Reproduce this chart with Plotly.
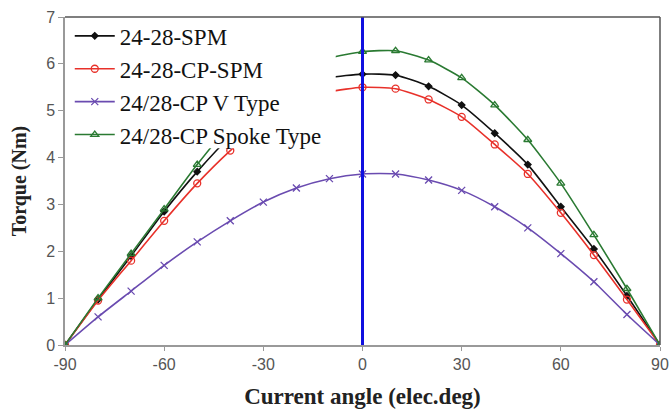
import plotly.graph_objects as go

angle = [-90, -80, -70, -60, -50, -40, -30, -20, -10, 0, 10, 20, 30, 40, 50, 60, 70, 80, 90]
spm = [0, 0.97, 1.9, 2.85, 3.7, 4.45, 5.05, 5.45, 5.7, 5.78, 5.76, 5.52, 5.12, 4.52, 3.85, 2.95, 2.05, 1.05, 0]
cp_spm = [0, 0.95, 1.8, 2.65, 3.45, 4.15, 4.75, 5.15, 5.4, 5.5, 5.47, 5.24, 4.87, 4.28, 3.65, 2.82, 1.92, 0.97, 0]
v_type = [0, 0.6, 1.15, 1.7, 2.2, 2.65, 3.05, 3.35, 3.55, 3.65, 3.65, 3.52, 3.3, 2.95, 2.5, 1.95, 1.35, 0.65, 0]
spoke = [0, 1.0, 1.95, 2.9, 3.85, 4.7, 5.4, 5.85, 6.12, 6.26, 6.28, 6.08, 5.7, 5.12, 4.38, 3.45, 2.35, 1.2, 0]

x_ticks = [-90, -60, -30, 0, 30, 60, 90]
x_ticktext = ["-90", "-60", "-30", "0", "30", "60", "90"]
y_ticks = [0, 1, 2, 3, 4, 5, 6, 7]

names = ["24-28-SPM", "24-28-CP-SPM", "24/28-CP V Type", "24/28-CP Spoke Type"]
series = [spm, cp_spm, v_type, spoke]
colors = ["#111111", "#e8312a", "#6a4bb0", "#2a7a32"]
symbols = ["diamond", "circle-open", "x-thin-open", "triangle-up-open"]
sizes = [5, 7, 7, 7]

fig = go.Figure()
for n, s, c, m, sz in zip(names, series, colors, symbols, sizes):
    fig.add_trace(go.Scatter(
        x=angle, y=s, name=n, mode="lines+markers",
        line=dict(color=c, width=1.6, shape="spline", smoothing=0.6),
        marker=dict(symbol=m, size=sz, color=c, line=dict(color=c, width=1.3)),
    ))

# white area behind the legend (hides the curves there, as in the original)
fig.add_shape(type="rect", xref="paper", yref="paper", x0=0.004, x1=0.455, y0=0.60, y1=0.996,
              fillcolor="white", line=dict(width=0), layer="above")

fig.add_shape(type="line", x0=0, x1=0, y0=0, y1=7, xref="x", yref="y",
              line=dict(color="#1010e0", width=3), layer="above")

serif = "Liberation Serif, Times New Roman, serif"
sans = "Liberation Sans Narrow, Liberation Sans, Arial, sans-serif"
fig.update_layout(
    width=669, height=409,
    margin=dict(l=65, r=9, t=17, b=64, autoexpand=False),
    paper_bgcolor="white", plot_bgcolor="white",
    font=dict(family=serif, color="#444444"),
    legend=dict(x=0.008, y=1.008, xanchor="left", yanchor="top",
                bgcolor="rgba(0,0,0,0)", borderwidth=0,
                font=dict(family=serif, size=23, color="#111111"),
                itemwidth=40, tracegroupgap=0),
    xaxis=dict(range=[-90, 90], tickvals=x_ticks, ticktext=x_ticktext,
               ticks="outside", ticklen=4, tickcolor="#999999", automargin=False,
               showgrid=False, zeroline=False, ticklabeloverflow="allow",
               showline=True, linecolor="#999999", linewidth=1.5, mirror=False,
               tickfont=dict(family=sans, size=16, color="#555555"),
               title=dict(text="<b>Current angle (elec.deg)</b>",
                          font=dict(family=serif, size=23, color="#222222"), standoff=16)),
    yaxis=dict(range=[0, 7], tickvals=y_ticks, automargin=False,
               ticks="outside", ticklen=5, tickcolor="#999999",
               showgrid=False, zeroline=False,
               showline=True, linecolor="#999999", linewidth=1.5,
               tickfont=dict(family=sans, size=16, color="#555555"),
               title=dict(text="<b>Torque (Nm)</b>",
                          font=dict(family=serif, size=20, color="#222222"), standoff=14)),
)
# top and right frame
fig.add_shape(type="line", xref="paper", yref="paper", x0=0, x1=1, y0=1, y1=1,
              line=dict(color="#555555", width=1.5))
fig.add_shape(type="line", xref="paper", yref="paper", x0=1, x1=1, y0=0, y1=1,
              line=dict(color="#555555", width=1.5))

fig.write_html("out.html")
